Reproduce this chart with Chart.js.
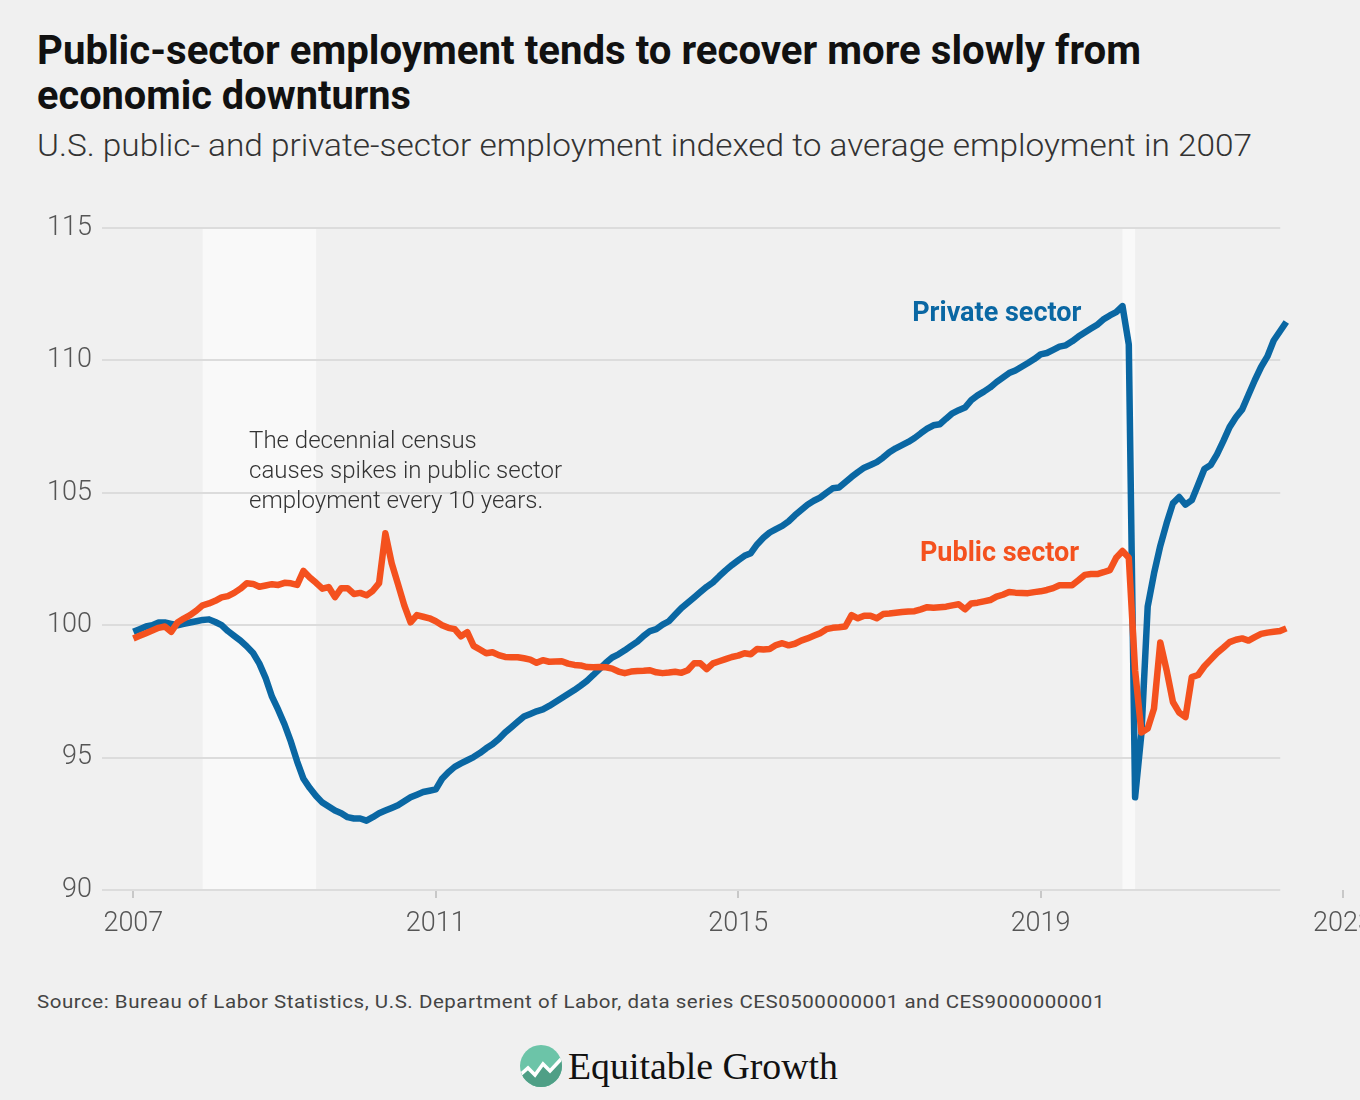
<!DOCTYPE html>
<html>
<head>
<meta charset="utf-8">
<script src="https://cdn.jsdelivr.net/npm/chart.js@4.4.0/dist/chart.umd.min.js"></script>
<style>
  html, body { margin: 0; padding: 0; background: #f0f0f0; overflow: hidden; }
  #page { position: relative; width: 1360px; height: 1100px; overflow: hidden; background: #f0f0f0; }
  .fit { position: absolute; left: 37px; white-space: nowrap; transform-origin: 0 0; }
  #t1, #t2 { font: 700 40px Roboto, sans-serif; color: #111; }
  #t1 { top: 27px; }
  #t2 { top: 72px; }
  #sub { top: 127px; font: 300 31px Roboto, sans-serif; color: #333; }
  #source { top: 990px; font: 400 19px Roboto, sans-serif; color: #444; letter-spacing: 0.5px; }
  #chartBox { position: absolute; left: 0; top: 0; width: 1400px; height: 960px; }
  #logo { position: absolute; left: 519px; top: 1044px; width: 330px; height: 46px; }
  #logo svg { position: absolute; left: 0; top: 0; }
  #logoText { position: absolute; left: 49px; top: 0px; font: 400 38px "Liberation Serif", serif; color: #111; white-space: nowrap; transform-origin: 0 0; }
</style>
</head>
<body>
<div id="page">
  <div class="fit" id="t1" data-w="1104">Public-sector employment tends to recover more slowly from</div>
  <div class="fit" id="t2" data-w="374">economic downturns</div>
  <div class="fit" id="sub" data-w="1215">U.S. public- and private-sector employment indexed to average employment in 2007</div>
  <div id="chartBox"><canvas id="chart" width="1400" height="960"></canvas></div>
  <div class="fit" id="source" data-w="1068">Source: Bureau of Labor Statistics, U.S. Department of Labor, data series CES0500000001 and CES9000000001</div>
  <div id="logo">
    <svg width="46" height="46" viewBox="0 0 46 46">
      <defs>
        <clipPath id="c"><circle cx="22" cy="22" r="21"/></clipPath>
      </defs>
      <circle cx="22" cy="22" r="21" fill="#6cc4a8"/>
      <path d="M0 46 L0 30 L9 24 L16 31 L24 20 L31 27 L46 12 L46 46 Z" fill="#4f9f86" clip-path="url(#c)"/>
      <path d="M1 31 L9 24 L16 31 L24 20 L31 27 L44 13" fill="none" stroke="#fff" stroke-width="3.5" clip-path="url(#c)"/>
    </svg>
    <div id="logoText" data-w="270">Equitable Growth</div>
  </div>
</div>
<script>
// monthly index, 2007 average = 100, Jan 2007 .. Apr 2022
const startYear = 2007;
const privateSector = [
  99.75, 99.85, 99.95, 100.0, 100.1, 100.1, 100.05, 100.0, 100.05, 100.1, 100.15, 100.2,
  100.22, 100.12, 100.0, 99.78, 99.6, 99.42, 99.2, 98.95, 98.55, 98.0, 97.3, 96.8,
  96.25, 95.6, 94.85, 94.2, 93.85, 93.55, 93.3, 93.15, 93.0, 92.9, 92.75, 92.7,
  92.7, 92.62, 92.75, 92.9, 93.0, 93.1, 93.2, 93.35, 93.5, 93.6, 93.7, 93.75,
  93.8, 94.2, 94.45, 94.65, 94.78, 94.9, 95.02, 95.17, 95.35, 95.5, 95.7, 95.95,
  96.15, 96.35, 96.55, 96.65, 96.75, 96.82, 96.95, 97.1, 97.25, 97.4, 97.55, 97.72,
  97.9, 98.12, 98.35, 98.58, 98.78, 98.9, 99.05, 99.22, 99.38, 99.6, 99.78, 99.85,
  100.02, 100.15, 100.4, 100.65, 100.85, 101.05, 101.25, 101.45, 101.62, 101.85, 102.07, 102.27,
  102.45, 102.62, 102.72, 103.05, 103.3, 103.5, 103.63, 103.75, 103.92, 104.15, 104.35, 104.55,
  104.7, 104.82, 105.0, 105.17, 105.2, 105.4, 105.6, 105.78, 105.95, 106.05, 106.16, 106.33,
  106.53, 106.68, 106.8, 106.92, 107.07, 107.25, 107.42, 107.55, 107.59, 107.8, 108.0, 108.12,
  108.22, 108.5, 108.68, 108.82, 108.98, 109.18, 109.35, 109.52, 109.62, 109.76, 109.9, 110.05,
  110.23, 110.28, 110.4, 110.52, 110.57, 110.72, 110.9, 111.05, 111.2, 111.35, 111.55, 111.7,
  111.82, 112.05, 110.6, 93.5, 95.9, 100.7, 101.95, 103.0, 103.85, 104.6, 104.84, 104.55,
  104.72, 105.3, 105.9, 106.05, 106.45, 106.95, 107.48, 107.85, 108.15, 108.7, 109.25, 109.75,
  110.15, 110.75, 111.1, 111.45
];
const publicSector = [
  99.5, 99.6, 99.7, 99.8, 99.9, 99.95, 99.75, 100.1, 100.25, 100.38, 100.55, 100.75,
  100.82, 100.92, 101.05, 101.1, 101.22, 101.38, 101.58, 101.56, 101.45, 101.5, 101.55, 101.52,
  101.6, 101.58, 101.52, 102.05, 101.8, 101.6, 101.38, 101.44, 101.06, 101.4, 101.4, 101.18,
  101.22, 101.13, 101.3, 101.59, 103.47, 102.34, 101.55, 100.75, 100.11, 100.38, 100.32, 100.26,
  100.15, 100.0, 99.9, 99.85, 99.58, 99.74, 99.22, 99.08, 98.94, 98.98, 98.87, 98.8,
  98.79, 98.79, 98.75, 98.7, 98.58, 98.68, 98.62, 98.63, 98.64, 98.55, 98.5, 98.48,
  98.42, 98.41, 98.42, 98.41, 98.36, 98.25, 98.19, 98.25, 98.27, 98.28, 98.3, 98.22,
  98.19, 98.21, 98.24, 98.2, 98.3, 98.56, 98.56, 98.34, 98.56, 98.64, 98.72, 98.8,
  98.85, 98.94, 98.9, 99.1, 99.08, 99.1, 99.25, 99.32, 99.24, 99.3, 99.42, 99.5,
  99.6, 99.7, 99.85, 99.9, 99.92, 99.95, 100.38, 100.26, 100.36, 100.36, 100.26, 100.42,
  100.44, 100.47, 100.5, 100.52, 100.53, 100.6, 100.68, 100.66, 100.68, 100.7, 100.75, 100.79,
  100.6, 100.82, 100.85, 100.9, 100.95, 101.08, 101.15, 101.25, 101.23, 101.22, 101.21, 101.25,
  101.28, 101.33, 101.4, 101.51, 101.51, 101.51, 101.7, 101.9, 101.93, 101.93, 102.0, 102.08,
  102.55, 102.8, 102.55, 98.3, 95.95, 96.1, 96.85, 99.35, 98.3, 97.1, 96.7, 96.53,
  98.04, 98.12, 98.45, 98.7, 98.95, 99.15, 99.36, 99.45, 99.5, 99.42, 99.55, 99.67,
  99.72, 99.75, 99.78, 99.88
];
const xTicks = [2007, 2011, 2015, 2019, 2023];
const yTicks = [90, 95, 100, 105, 110, 115];
// recessions: Dec 2007 - Jun 2009, Feb 2020 - Apr 2020
const recessions = [[2007 + 11 / 12, 2009 + 5 / 12], [2020 + 1 / 12, 2020 + 3 / 12]];
const noteLines = ['The decennial census', 'causes spikes in public sector', 'employment every 10 years.'];

const BLUE = '#0a67a3';
const ORANGE = '#f4511e';
const FONT = 'Roboto, sans-serif';

const toPoints = arr => arr.map((v, i) => ({ x: startYear + i / 12, y: v }));

const backdrop = {
  id: 'backdrop',
  beforeDatasetsDraw(chart) {
    const { ctx, chartArea: a, scales: { x, y } } = chart;
    ctx.save();
    ctx.fillStyle = '#f9f9f9';
    recessions.forEach(([s, e]) => {
      const x0 = x.getPixelForValue(s), x1 = x.getPixelForValue(e);
      ctx.fillRect(x0, a.top, x1 - x0, a.bottom - a.top);
    });
    // gridlines stop short of the last x tick
    const xEnd = x.getPixelForValue(2022.17);
    ctx.strokeStyle = '#dcdcdc';
    ctx.lineWidth = 2;
    y.ticks.forEach(t => {
      const py = Math.round(y.getPixelForValue(t.value));
      ctx.beginPath();
      ctx.moveTo(a.left, py);
      ctx.lineTo(xEnd, py);
      ctx.stroke();
    });
    ctx.restore();
  },
  afterDatasetsDraw(chart) {
    const { ctx, scales: { x, y } } = chart;
    ctx.save();
    ctx.textBaseline = 'middle';
    ctx.textAlign = 'right';
    ctx.font = '700 27px ' + FONT;
    ctx.fillStyle = BLUE;
    ctx.fillText('Private sector', x.getPixelForValue(2019.54), y.getPixelForValue(111.74));
    ctx.fillStyle = ORANGE;
    ctx.fillText('Public sector', x.getPixelForValue(2019.51), y.getPixelForValue(102.68));
    ctx.textAlign = 'left';
    ctx.font = '300 24px ' + FONT;
    ctx.fillStyle = '#333';
    const nx = x.getPixelForValue(2008.53), ny = y.getPixelForValue(106.93);
    noteLines.forEach((s, i) => ctx.fillText(s, nx, ny + i * 30));
    ctx.restore();
  }
};

new Chart(document.getElementById('chart'), {
  type: 'line',
  data: {
    datasets: [
      { label: 'Public sector', data: toPoints(publicSector), borderColor: ORANGE, borderWidth: 6.5, order: 0 },
      { label: 'Private sector', data: toPoints(privateSector), borderColor: BLUE, borderWidth: 6.5, order: 1 }
    ]
  },
  options: {
    responsive: false,
    animation: false,
    devicePixelRatio: 1,
    layout: { padding: { left: 0, right: 57, top: 228, bottom: 20 } },
    elements: { point: { radius: 0 }, line: { tension: 0, borderJoinStyle: 'round', borderCapStyle: 'butt' } },
    plugins: { legend: { display: false }, tooltip: { enabled: false } },
    scales: {
      x: {
        type: 'linear',
        min: 2006.585,
        max: 2023,
        afterBuildTicks: s => { s.ticks = xTicks.map(v => ({ value: v })); },
        afterFit: s => { s.height = 50; },
        grid: { drawOnChartArea: false, drawTicks: true, tickLength: 8, color: '#c8c8c8', lineWidth: 2 },
        border: { display: false },
        ticks: { callback: v => String(v), color: '#555', padding: 10, maxRotation: 0, font: { family: FONT, size: 27, weight: '300' } }
      },
      y: {
        min: 90,
        max: 115,
        afterBuildTicks: s => { s.ticks = yTicks.map(v => ({ value: v })); },
        afterFit: s => { s.width = 102; },
        grid: { display: false },
        border: { display: false },
        ticks: { color: '#555', padding: 2, font: { family: FONT, size: 27, weight: '300' } }
      }
    }
  },
  plugins: [backdrop]
});

// squeeze the header/footer text to the reference widths
document.querySelectorAll('[data-w]').forEach(el => {
  const w = el.getBoundingClientRect().width;
  el.style.transform = 'scaleX(' + (el.dataset.w / w) + ')';
});
</script>
</body>
</html>
